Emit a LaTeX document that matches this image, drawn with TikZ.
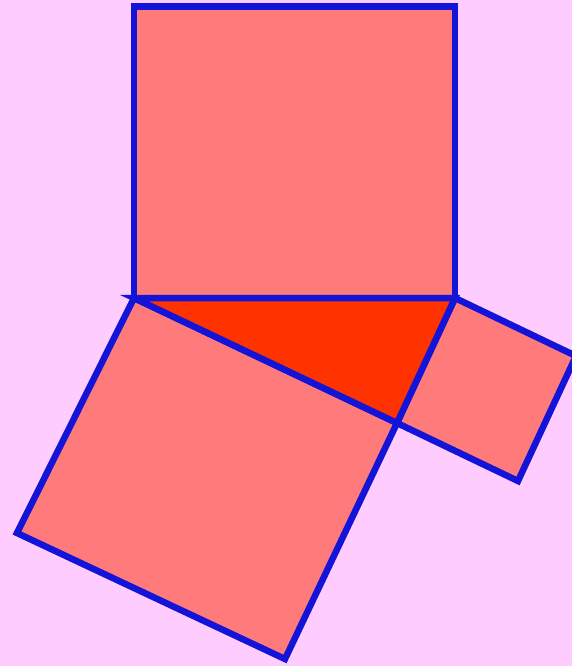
\documentclass[tikz,border=0pt]{standalone}
\definecolor{backpink}{HTML}{FFCCFF}
\definecolor{squarefill}{HTML}{FF7A7A}
\definecolor{trianglefill}{HTML}{FF3300}
\definecolor{edgeblue}{HTML}{1414D8}
\begin{document}
\begin{tikzpicture}[x = 1pt, y = -1pt, line join = miter, square/.style = { fill = squarefill, draw = edgeblue, line width = 6.5pt }, triangle/.style = { fill = trianglefill, draw = edgeblue, line width = 6.5pt }]
  \fill [backpink] (0, 0) rectangle (572, 666);
  \useasboundingbox (0, 0) rectangle (572, 666);

  \coordinate (a) at (134, 298);
  \coordinate (b) at (455, 298);
  \coordinate (c) at (397, 423);
  \coordinate (ab1) at (455, 6.5);
  \coordinate (ab2) at (134, 6.5);
  \coordinate (ac1) at (285, 659);
  \coordinate (ac2) at (17, 533);
  \coordinate (bc1) at (518, 481);
  \coordinate (bc2) at (576, 356);

  \draw [square] (a) -- (b) -- (ab1) -- (ab2) -- cycle;
  \draw [square] (a) -- (c) -- (ac1) -- (ac2) -- cycle;
  \draw [square] (b) -- (c) -- (bc1) -- (bc2) -- cycle;
  \draw [triangle] (a) -- (b) -- (c) -- cycle;
\end{tikzpicture}
\end{document}
